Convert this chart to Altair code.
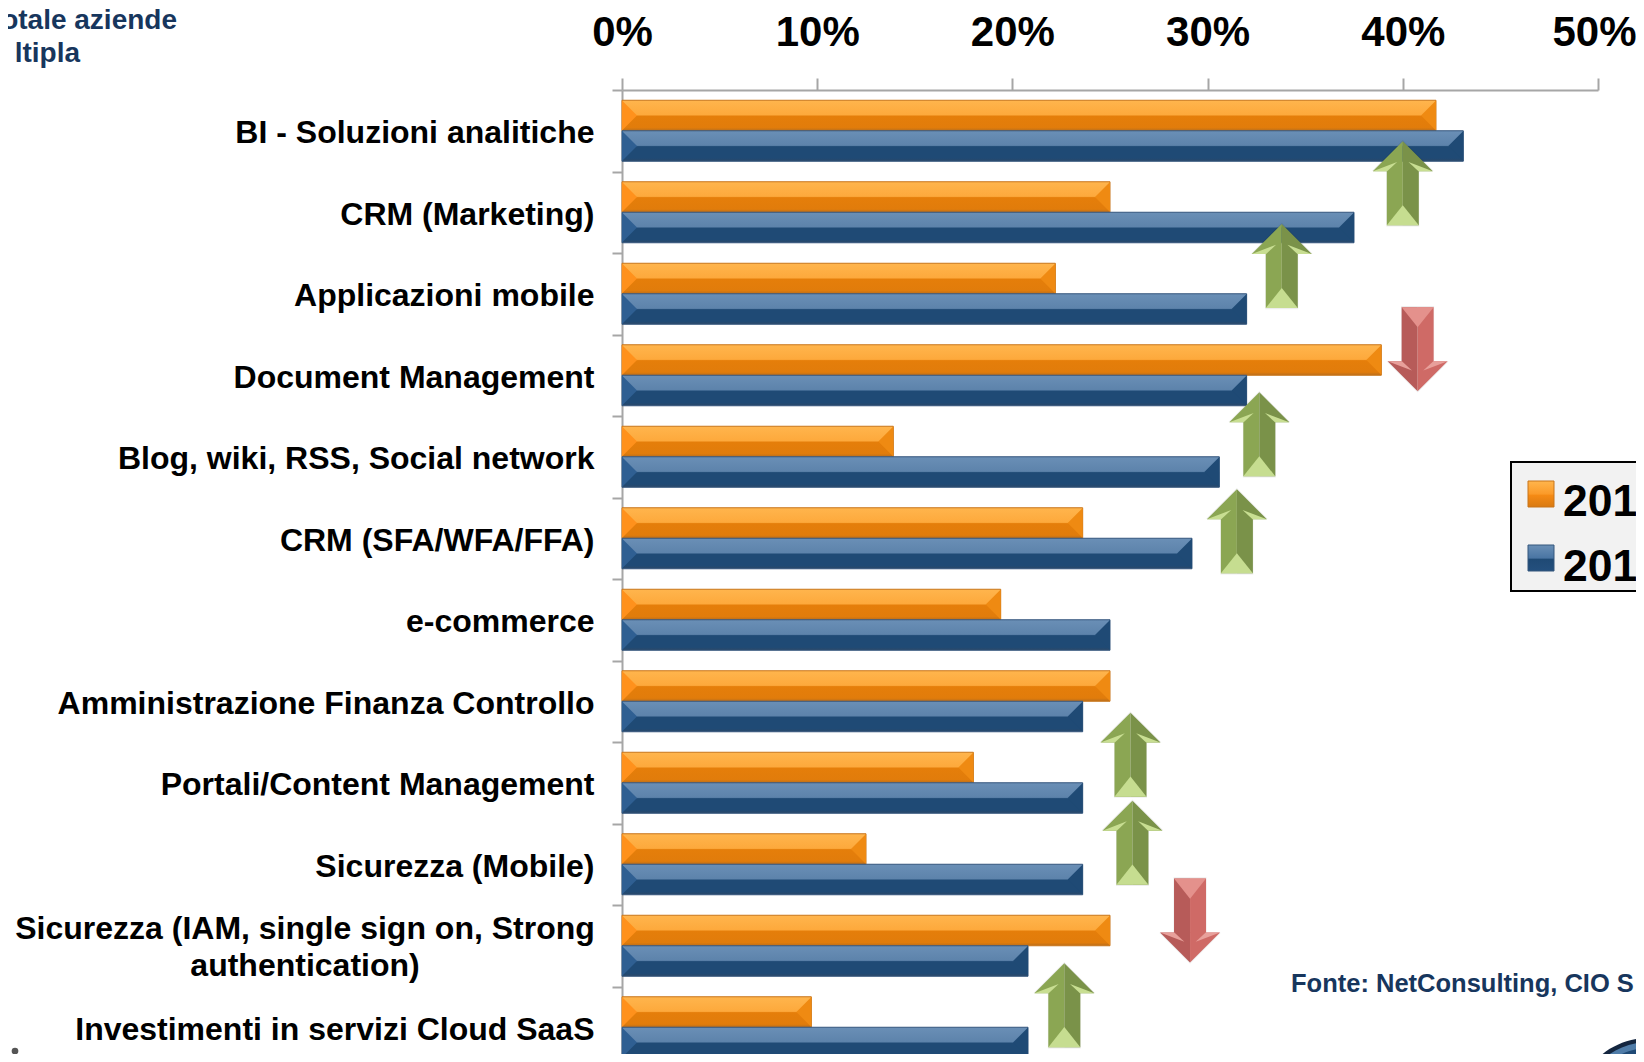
import altair as alt
import pandas as pd

categories = ["BI - Soluzioni analitiche", "CRM (Marketing)", "Applicazioni mobile", "Document Management",
              "Blog, wiki, RSS, Social network", "CRM (SFA/WFA/FFA)", "e-commerce",
              "Amministrazione Finanza Controllo", "Portali/Content Management", "Sicurezza (Mobile)",
              "Sicurezza (IAM, single sign on, Strong authentication)", "Investimenti in servizi Cloud SaaS"]
orange_vals = [41.7, 25.0, 22.2, 38.9, 13.9, 23.6, 19.4, 25.0, 18.0, 12.5, 25.0, 9.7]
blue_vals = [43.1, 37.5, 32.0, 32.0, 30.6, 29.2, 25.0, 23.6, 23.6, 23.6, 20.8, 20.8]
legend_labels = ["201", "201"]

# arrows: value on the % axis, category they sit in, shift from that band's centre (in bands)
up_x = [40.0, 33.8, 32.65, 31.5, 26.05, 26.15, 22.66]
up_cat = [1, 2, 4, 5, 8, 9, 11]
up_off = [-0.355, -0.34, -0.275, -0.085, -0.345, -0.265, -0.27]
down_x = [40.76, 29.1]
down_cat = [3, 10]
down_off = [-0.32, -0.31]

FONT = "Liberation Sans"
NAVY = "#17365d"
GREY = "#a6a6a6"

df_o = pd.DataFrame({"cat": categories, "val": orange_vals, "zero": [0] * 12})
df_b = pd.DataFrame({"cat": categories, "val": blue_vals, "zero": [0] * 12})
up = pd.DataFrame({"x": up_x, "cat": [categories[i] for i in up_cat], "off": up_off})
down = pd.DataFrame({"x": down_x, "cat": [categories[i] for i in down_cat], "off": down_off})

x_scale = alt.Scale(domain=[0, 50], range=[0, 976], nice=False, zero=False)
y_scale = alt.Scale(domain=categories, range=[0, 978], paddingInner=0, paddingOuter=0)
off_scale = alt.Scale(domain=[-1, 1], range=[-40.75, 122.25], nice=False, zero=False)

x_axis = alt.Axis(orient="top", values=[0, 10, 20, 30, 40, 50], labelExpr="datum.value + '%'", title=None, grid=False,
                  labelFont=FONT, labelFontSize=42, labelFontWeight="bold", labelColor="black", labelPadding=24,
                  labelFlush=False, labelOverlap=False,
                  labelOffset={"condition": {"test": "datum.value === 50", "value": -4}, "value": 0},
                  tickSize=12, tickWidth=2, tickColor=GREY, domainColor=GREY, domainWidth=2)
y_axis = alt.Axis(title=None, labelFont=FONT, labelFontSize=32, labelFontWeight="bold", labelColor="black",
                  labelPadding=18, labelLimit=700, labelOffset=2, tickBand="extent", tickSize=10, tickWidth=2,
                  tickColor=GREY, domainColor=GREY, domainWidth=2,
                  labelExpr="indexof(datum.label, 'IAM') > 0 ? '' : datum.label")
X_VAL = alt.X("val:Q", scale=x_scale, axis=x_axis)
X_ZERO = alt.X("zero:Q", scale=x_scale, axis=x_axis)
Y_CAT = alt.Y("cat:N", scale=y_scale, sort=categories, axis=y_axis)


def grad(stops):
    return alt.Gradient(gradient="linear", x1=0, x2=0, y1=0, y2=1,
                        stops=[alt.GradientStop(offset=o, color=c) for o, c in stops])


GR_O = grad([(0, "#ffb54d"), (0.48, "#fda93c"), (0.52, "#e57e0a"), (0.9, "#e17c0b"), (1, "#b96e1c")])
GR_B = grad([(0, "#6a8fb6"), (0.48, "#5d83ab"), (0.52, "#1f4a75"), (0.9, "#1f4a75"), (1, "#2b4868")])


def bar_layers(data, gradient, stroke, right_col, left_col, dy):
    bar = alt.Chart(data).mark_bar(color=gradient, stroke=stroke, strokeWidth=1, height=30.5, yOffset=dy).encode(
        x=X_VAL, y=Y_CAT)
    right = alt.Chart(data).mark_point(filled=True, opacity=1, strokeWidth=0, size=900, color=right_col, yOffset=dy,
                                       shape="M0,-1 L-1,0 L0,1 Z").encode(x=X_VAL, y=Y_CAT)
    left = alt.Chart(data).mark_point(filled=True, opacity=1, strokeWidth=0, size=900, color=left_col, yOffset=dy,
                                      shape="M0,-1 L1,0 L0,1 Z").encode(x=X_ZERO, y=Y_CAT)
    return [bar, right, left]


bars = (bar_layers(df_o, GR_O, "#c8751a", "#ef8a12", "#ff911c", -15.25)
        + bar_layers(df_b, GR_B, "#34567c", "#1f4a75", "#2f5f92", 15.25))

ARROW_SIZE = 84 ** 2
OUT_UP = "M0,-1 L0.714,-0.286 L0.381,-0.286 L0.381,1 L-0.381,1 L-0.381,-0.286 L-0.714,-0.286 Z"
OUT_DOWN = "M0,1 L0.714,0.286 L0.381,0.286 L0.381,-1 L-0.381,-1 L-0.381,0.286 L-0.714,0.286 Z"


def arrow(data, path, color, size=ARROW_SIZE, opacity=1.0):
    return alt.Chart(data).mark_point(filled=True, opacity=opacity, strokeWidth=0, size=size, color=color,
                                      shape=path).encode(
        x=alt.X("x:Q", scale=x_scale, axis=x_axis),
        y=Y_CAT,
        yOffset=alt.YOffset("off:Q", scale=off_scale))


arrows_up = [
    arrow(up, OUT_UP, "#000000", ARROW_SIZE * 1.06, 0.07),
    arrow(up, "M0,-1 L-0.714,-0.286 L-0.381,-0.286 L-0.381,1 L0,1 Z", "#8ba653"),
    arrow(up, "M0,-1 L0.714,-0.286 L0.381,-0.286 L0.381,1 L0,1 Z", "#7a9249"),
    arrow(up, "M-0.381,1 L0,0.52 L0.381,1 Z", "#c6dd90"),
    arrow(up, "M-0.714,-0.286 L-0.135,-0.508 L-0.373,-0.286 Z", "#c8de92"),
    arrow(up, "M0.714,-0.286 L0.135,-0.508 L0.373,-0.286 Z", "#c8de92"),
]
arrows_down = [
    arrow(down, OUT_DOWN, "#000000", ARROW_SIZE * 1.06, 0.07),
    arrow(down, "M0,1 L-0.714,0.286 L-0.381,0.286 L-0.381,-1 L0,-1 Z", "#b75b59"),
    arrow(down, "M0,1 L0.714,0.286 L0.381,0.286 L0.381,-1 L0,-1 Z", "#cf6a66"),
    arrow(down, "M-0.381,-1 L0,-0.52 L0.381,-1 Z", "#e4918c"),
    arrow(down, "M-0.714,0.286 L-0.135,0.508 L-0.373,0.286 Z", "#e8a09b"),
    arrow(down, "M0.714,0.286 L0.135,0.508 L0.373,0.286 Z", "#e8a09b"),
]

ONE = pd.DataFrame({"a": [0]})


def label(text, x, y, size, color="black", align="left", **kw):
    return alt.Chart(ONE).mark_text(text=text, font=FONT, fontWeight="bold", fontSize=size, color=color, align=align,
                                    baseline="alphabetic", **kw).encode(x=alt.value(x), y=alt.value(y))


def box(x, x2, y, y2, **kw):
    return alt.Chart(ONE).mark_rect(**kw).encode(x=alt.value(x), x2=alt.value(x2), y=alt.value(y), y2=alt.value(y2))


SW_O = grad([(0, "#ffb54d"), (0.5, "#fb9a28"), (0.55, "#f58a14"), (1, "#d97a12")])
SW_B = grad([(0, "#6a8fb6"), (0.5, "#4a75a3"), (0.55, "#1f4a75"), (1, "#24507e")])

legend = [
    box(889, 1078, 372, 501, fill="#f2f2f2", stroke="black", strokeWidth=2),
    box(906, 932, 391, 417, fill=SW_O, stroke="#c8751a", strokeWidth=1),
    box(906, 932, 455, 481, fill=SW_B, stroke="#34567c", strokeWidth=1),
    label(legend_labels[0], 941, 426, 44.5),
    label(legend_labels[1], 941, 491, 44.5),
]

two_line = alt.Chart(ONE).mark_text(text=["Sicurezza (IAM, single sign on, Strong", "authentication)"],
                                    font=FONT, fontWeight="bold", fontSize=32, color="black", align="center",
                                    baseline="middle", lineHeight=37).encode(x=alt.value(-317), y=alt.value(839))

texts = [
    two_line,
    label("otale aziende", -445, -61, 28, NAVY, "right"),
    label("ltipla", -542, -28, 28, NAVY, "right"),
    label("Fonte: NetConsulting, CIO S", 669, 902, 25.5, NAVY),
]

ELL = "M-1,0 A1,0.77 0 1,1 1,0 A1,0.77 0 1,1 -1,0 Z"


def spot(x, y, size, color, shape="circle"):
    return alt.Chart(ONE).mark_point(filled=True, opacity=1, strokeWidth=0, size=size, color=color,
                                     shape=shape).encode(x=alt.value(x), y=alt.value(y))


fragments = [
    spot(1030, 1000, 136 ** 2, "#14263f", ELL),
    spot(1030, 1001, 128 ** 2, "#4f7ca8", ELL),
    spot(1030, 1003, 118 ** 2, "#1f4a75", ELL),
    spot(-607, 961, 45, "#555555"),
]

chart = alt.layer(*bars, *arrows_up, *arrows_down, *legend, *texts, *fragments).properties(
    width=976, height=964,
    autosize=alt.AutoSizeParams(type="none"),
    padding={"left": 614, "top": 82, "right": 38, "bottom": 0},
    background="white",
).configure_view(stroke=None)

chart.save("out.html", embed_options={"renderer": "svg", "actions": False})
